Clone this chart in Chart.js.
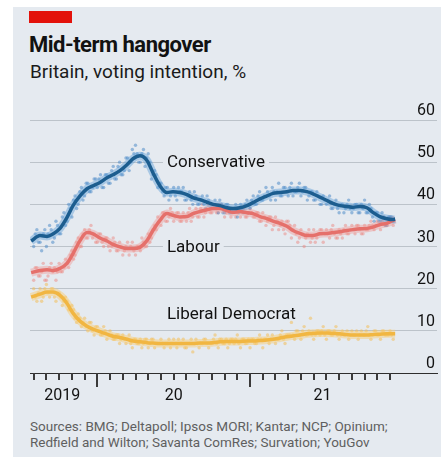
<!DOCTYPE html>
<html>
<head>
<meta charset="utf-8">
<script src="https://cdn.jsdelivr.net/npm/chart.js@4.4.1/dist/chart.umd.min.js"></script>
<style>
  body { margin: 0; width: 441px; height: 457px; overflow: hidden; position: relative; background: #fff; font-family: Roboto, sans-serif; }
  #panel { position: absolute; left: 13px; top: 7px; width: 428px; height: 450px; background: #e5eaf0; }
  #tag { position: absolute; left: 29px; top: 11px; width: 43px; height: 12px; background: #e3120b; }
  #title { position: absolute; left: 29px; top: 34px; font: bold 22px/22px Roboto, sans-serif; letter-spacing: -0.5px; color: #121212; white-space: nowrap; }
  #subtitle { position: absolute; left: 30px; top: 62px; font: 19px/19px Roboto, sans-serif; color: #1a1a1a; white-space: nowrap; }
  #chartBox { position: absolute; left: 13px; top: 95px; width: 428px; height: 312px; }
  #source { position: absolute; left: 30px; top: 418px; font: 13.5px/16px Roboto, sans-serif; color: #5f5f5f; white-space: nowrap; }
</style>
</head>
<body>
<div id="panel"></div>
<div id="tag"></div>
<div id="title">Mid-term hangover</div>
<div id="subtitle">Britain, voting intention, %</div>
<div id="chartBox"><canvas id="chart" width="428" height="312"></canvas></div>
<div id="source">Sources: BMG; Deltapoll; Ipsos MORI; Kantar; NCP; Opinium;<br>Redfield and Wilton; Savanta ComRes; Survation; YouGov</div>
<script>
// x values are months counted from January 2019 (12 = Jan 2020, 24 = Jan 2021)
const trendMonths = [6.8, 7.5, 8.05, 8.52, 9.07, 9.62, 10.09, 10.64, 11.19, 11.66, 12.21, 12.76, 13.23, 13.78,
  14.33, 14.8, 15.35, 15.9, 16.37, 16.92, 17.47, 17.94, 18.49, 19.04, 19.51, 20.06, 20.61, 21.09, 21.64, 22.19,
  22.66, 23.21, 23.76, 24.23, 24.78, 25.33, 25.8, 26.35, 26.9, 27.37, 27.92, 28.47, 28.94, 29.49, 30.04, 30.51,
  31.06, 31.61, 32.08, 32.63, 33.18, 33.65, 34.2, 34.75, 35.22, 35.4];
const conservativeTrend = [31.3, 32.6, 32.4, 33.0, 34.3, 36.9, 39.7, 42.0, 43.7, 44.4, 45.2, 46.3, 47.0, 48.0,
  49.4, 50.8, 51.5, 50.4, 47.5, 44.4, 42.8, 43.0, 42.8, 42.3, 41.6, 41.1, 40.5, 40.0, 39.7, 39.2, 39.0, 39.2,
  39.7, 40.4, 41.3, 42.0, 42.6, 42.8, 43.0, 43.3, 43.3, 43.0, 42.5, 41.7, 40.9, 40.2, 39.7, 39.5, 39.3, 39.5,
  39.2, 38.1, 37.1, 36.6, 36.4, 36.5];
const labourTrend = [23.8, 24.3, 24.5, 24.3, 24.8, 26.0, 28.3, 31.4, 33.3, 33.0, 32.0, 31.3, 30.5, 29.9,
  29.5, 29.5, 29.8, 31.4, 33.8, 36.2, 37.8, 37.4, 37.0, 37.1, 37.8, 38.3, 38.7, 39.0, 39.0, 38.5, 38.1, 38.3,
  38.0, 37.8, 37.1, 36.6, 36.0, 35.5, 34.8, 33.8, 33.1, 32.6, 32.6, 33.0, 33.1, 33.3, 33.5, 33.8, 34.0, 34.2,
  34.3, 34.6, 35.2, 35.5, 36.2, 36.4];
const libDemTrend = [18.0, 18.7, 19.2, 19.2, 18.4, 16.5, 14.2, 12.3, 11.1, 10.4, 9.8, 9.2, 8.7, 8.4,
  8.0, 7.6, 7.4, 7.2, 7.1, 7.0, 7.0, 7.0, 7.0, 7.0, 7.0, 7.1, 7.1, 7.2, 7.4, 7.5, 7.5, 7.5,
  7.6, 7.6, 7.7, 7.8, 8.0, 8.3, 8.6, 8.8, 9.0, 9.3, 9.4, 9.5, 9.5, 9.4, 9.3, 9.1, 9.0, 9.0,
  9.0, 9.1, 9.2, 9.3, 9.3, 9.3];

// individual polls, first batch (on the quarter months)
const pollMonths = [
  7, 7.25, 7.5, 7.75, 8, 8.25, 8.5, 8.75, 9, 9.25, 9.5, 9.75, 10, 10.25, 10.5, 10.75,
  11, 11.25, 11.5, 11.75, 12, 12.25, 12.5, 12.75, 13, 13.25, 13.5, 13.75, 14, 14.25, 14.5, 14.75,
  15, 15.25, 15.5, 15.75, 16, 16.25, 16.5, 16.75, 17, 17.25, 17.5, 17.75, 18, 18.25, 18.5, 18.75,
  19, 19.25, 19.5, 19.75, 20, 20.25, 20.5, 20.75, 21, 21.25, 21.5, 21.75, 22, 22.25, 22.5, 22.75,
  23, 23.25, 23.5, 23.75, 24, 24.25, 24.5, 24.75, 25, 25.25, 25.5, 25.75, 26, 26.25, 26.5, 26.75,
  27, 27.25, 27.5, 27.75, 28, 28.25, 28.5, 28.75, 29, 29.25, 29.5, 29.75, 30, 30.25, 30.5, 30.75,
  31, 31.25, 31.5, 31.75, 32, 32.25, 32.5, 32.75, 33, 33.25, 33.5, 33.75, 34, 34.25, 34.5, 34.75,
  35, 35.25];
const conservativePolls = [
  30, 34, 31, 33, 30, 35, 31, 36, 33, 37, 35, 40, 37, 42, 40, 44,
  42, 45, 43, 46, 44, 47, 44, 47, 45, 49, 46, 50, 47, 51, 48, 53,
  54, 50, 52, 49, 52, 46, 48, 44, 45, 42, 44, 42, 44, 41, 43, 44,
  41, 43, 40, 42, 40, 42, 39, 41, 39, 41, 38, 40, 38, 40, 38, 39,
  37, 40, 38, 41, 39, 42, 40, 43, 41, 44, 42, 44, 41, 45, 42, 44,
  42, 45, 43, 44, 42, 44, 41, 43, 41, 43, 40, 42, 40, 42, 39, 41,
  38, 40, 39, 41, 38, 40, 38, 40, 41, 38, 39, 36, 38, 36, 37, 35,
  37, 36];
const labourPolls = [
  22, 25, 23, 26, 22, 25, 24, 22, 26, 24, 27, 25, 29, 28, 32, 30,
  34, 32, 35, 33, 31, 33, 30, 32, 29, 32, 29, 31, 28, 30, 28, 31,
  28, 30, 32, 30, 33, 32, 35, 37, 35, 38, 36, 39, 36, 38, 36, 38,
  36, 39, 37, 39, 37, 40, 38, 40, 38, 40, 38, 40, 37, 39, 37, 39,
  38, 37, 39, 37, 39, 37, 38, 36, 38, 35, 37, 34, 37, 34, 36, 33,
  36, 32, 35, 31, 34, 30, 33, 31, 34, 32, 34, 31, 34, 32, 35, 32,
  34, 32, 35, 33, 35, 33, 35, 33, 35, 34, 36, 34, 36, 34, 37, 35,
  37, 35];
const libDemPolls = [
  20, 17, 20, 18, 21, 18, 20, 17, 19, 16, 18, 15, 16, 13, 14, 11,
  13, 10, 12, 9, 11, 9, 11, 8, 10, 8, 9, 7, 9, 7, 9, 6,
  8, 7, 6, 8, 6, 8, 6, 7, 8, 6, 7, 6, 8, 6, 7, 8,
  6, 7, 5, 8, 6, 7, 8, 6, 7, 9, 6, 8, 7, 6, 8, 7,
  9, 6, 8, 7, 6, 8, 7, 9, 6, 8, 7, 9, 7, 8, 10, 7,
  9, 12, 8, 10, 8, 11, 9, 13, 8, 10, 9, 11, 8, 10, 9, 11,
  8, 10, 9, 8, 10, 9, 8, 10, 9, 11, 8, 10, 9, 8, 10, 9,
  10, 8];

// second batch of polls, between the first ones
const pollMonthsB = [
  7.125, 7.375, 7.625, 7.875, 8.125, 8.375, 8.625, 8.875, 9.125, 9.375, 9.625, 9.875,
  10.125, 10.375, 10.625, 10.875, 11.125, 11.375, 11.625, 11.875, 12.125, 12.375, 12.625, 12.875,
  13.125, 13.375, 13.625, 13.875, 14.125, 14.375, 14.625, 14.875, 15.125, 15.375, 15.625, 15.875,
  16.125, 16.375, 16.625, 16.875, 17.125, 17.375, 17.625, 17.875, 18.125, 18.375, 18.625, 18.875,
  19.125, 19.375, 19.625, 19.875, 20.125, 20.375, 20.625, 20.875, 21.125, 21.375, 21.625, 21.875,
  22.125, 22.375, 22.625, 22.875, 23.125, 23.375, 23.625, 23.875, 24.125, 24.375, 24.625, 24.875,
  25.125, 25.375, 25.625, 25.875, 26.125, 26.375, 26.625, 26.875, 27.125, 27.375, 27.625, 27.875,
  28.125, 28.375, 28.625, 28.875, 29.125, 29.375, 29.625, 29.875, 30.125, 30.375, 30.625, 30.875,
  31.125, 31.375, 31.625, 31.875, 32.125, 32.375, 32.625, 32.875, 33.125, 33.375, 33.625, 33.875,
  34.125, 34.375, 34.625, 34.875, 35.125];
const conservativePollsB = [
  33, 31, 29, 34, 33, 34, 32, 35, 33, 38, 36, 39, 41, 39, 43, 41,
  45, 43, 44, 46, 46, 44, 47, 45, 48, 46, 49, 47, 48, 51, 50, 52,
  52, 50, 53, 51, 50, 47, 47, 45, 43, 44, 41, 43, 42, 44, 43, 41,
  42, 41, 43, 40, 41, 40, 42, 39, 40, 39, 41, 38, 40, 38, 39, 40,
  38, 39, 40, 38, 41, 40, 42, 41, 42, 43, 41, 43, 43, 42, 44, 43,
  44, 42, 43, 45, 43, 44, 42, 43, 41, 42, 40, 41, 41, 39, 40, 39,
  40, 38, 40, 39, 39, 40, 38, 39, 38, 40, 37, 38, 36, 38, 35, 37,
  37];
const labourPollsB = [
  25, 23, 24, 22, 23, 26, 25, 24, 24, 25, 26, 28, 27, 31, 30, 33,
  32, 34, 32, 31, 33, 31, 32, 30, 30, 31, 29, 30, 29, 31, 30, 29,
  30, 29, 31, 30, 31, 34, 34, 36, 38, 36, 37, 38, 37, 38, 36, 37,
  38, 36, 38, 37, 39, 37, 39, 38, 39, 38, 40, 39, 38, 39, 38, 37,
  39, 38, 37, 38, 38, 37, 38, 36, 37, 36, 37, 35, 36, 35, 34, 36,
  35, 34, 33, 32, 33, 32, 34, 32, 31, 33, 34, 33, 33, 34, 33, 32,
  33, 34, 33, 34, 34, 35, 34, 33, 34, 35, 35, 35, 35, 36, 35, 36,
  36];
const libDemPollsB = [
  18, 19, 17, 20, 19, 20, 18, 19, 18, 17, 17, 15, 15, 12, 13, 12,
  11, 12, 10, 11, 10, 9, 10, 9, 9, 8, 9, 8, 8, 8, 7, 8,
  7, 8, 7, 8, 7, 8, 7, 7, 7, 7, 8, 7, 7, 8, 7, 6,
  7, 8, 7, 7, 7, 8, 7, 7, 8, 7, 8, 7, 8, 7, 8, 8,
  7, 8, 7, 8, 8, 7, 8, 8, 8, 9, 8, 8, 8, 9, 8, 9,
  9, 9, 10, 9, 10, 9, 10, 9, 9, 10, 10, 9, 10, 9, 10, 9,
  9, 9, 10, 9, 9, 10, 9, 9, 10, 9, 9, 10, 9, 10, 9, 9,
  9];

const monthTicks = [7, 8, 9, 10, 11, 12, 13, 14, 15, 16, 17, 18, 19, 20, 21, 22, 23, 24, 25, 26, 27, 28, 29, 30, 31, 32, 33, 34, 35];
const yearTicks = [12, 24];
const yearLabels = ['2019', '20', '21'];
const yearLabelMonths = [9.25, 18.01, 29.7];
const seriesNames = ['Conservative', 'Labour', 'Liberal Democrat'];
const nameAnchors = [[17.47, 50], [17.47, 30], [17.47, 14]];

const panelColour = '#e5eaf0';
const inkColour = '#121212';
const axisColour = '#2e2e2e';

function toPoints(xs, ys) {
  return xs.map((x, i) => ({ x: x, y: ys[i] }));
}

// trend line with a pale halo and the raw polls underneath
function partyDatasets(trend, polls, pollsB, line, halo, dots, order) {
  const pollPoints = toPoints(pollMonths, polls).concat(toPoints(pollMonthsB, pollsB));
  return [
    { data: toPoints(trendMonths, trend), borderColor: line, borderWidth: 3.5, pointRadius: 0,
      cubicInterpolationMode: 'monotone', order: order },
    { data: toPoints(trendMonths, trend), borderColor: halo, borderWidth: 8, pointRadius: 0,
      cubicInterpolationMode: 'monotone', order: order + 10 },
    { data: pollPoints, showLine: false, pointRadius: 1.7, pointBorderWidth: 0,
      pointBackgroundColor: dots, order: order + 20 }
  ];
}

// month ticks under the axis, longer ones at the start of each year
const axisTickPlugin = {
  id: 'axisTicks',
  afterDraw(chart) {
    const { ctx, chartArea, scales: { x } } = chart;
    ctx.save();
    ctx.fillStyle = '#3a3a3a';
    monthTicks.forEach(m => {
      const px = Math.round(x.getPixelForValue(m));
      const len = yearTicks.includes(m) ? 14 : 7;
      ctx.fillRect(px - 1, chartArea.bottom, 2, len);
    });
    ctx.restore();
  }
};

// party names written on the chart, knocking out the gridline behind them
const nameLabelPlugin = {
  id: 'nameLabels',
  beforeDatasetsDraw(chart) {
    const { ctx, scales: { x, y } } = chart;
    ctx.save();
    ctx.font = '17px Roboto';
    ctx.textBaseline = 'middle';
    seriesNames.forEach((name, i) => {
      const px = x.getPixelForValue(nameAnchors[i][0]);
      const py = y.getPixelForValue(nameAnchors[i][1]);
      const w = ctx.measureText(name).width;
      ctx.fillStyle = panelColour;
      ctx.fillRect(px - 4, py - 9, w + 8, 18);
      ctx.fillStyle = inkColour;
      ctx.fillText(name, px, py + 1);
    });
    ctx.restore();
  }
};

function drawChart() {
  Chart.defaults.font.family = 'Roboto';
  const datasets = []
    .concat(partyDatasets(conservativeTrend, conservativePolls, conservativePollsB, '#1c5d8f', 'rgba(95,160,215,0.45)', 'rgba(80,140,200,0.55)', 1))
    .concat(partyDatasets(labourTrend, labourPolls, labourPollsB, '#e5706b', 'rgba(240,155,150,0.45)', 'rgba(235,135,130,0.5)', 2))
    .concat(partyDatasets(libDemTrend, libDemPolls, libDemPollsB, '#f1b642', 'rgba(247,205,120,0.5)', 'rgba(242,190,90,0.55)', 3));

  new Chart(document.getElementById('chart'), {
    type: 'line',
    data: { datasets: datasets },
    options: {
      responsive: false,
      animation: false,
      devicePixelRatio: 1,
      layout: { padding: { left: 17, right: 4, top: 25, bottom: 0 } },
      plugins: { legend: { display: false }, tooltip: { enabled: false } },
      scales: {
        x: {
          type: 'linear',
          min: 6.71,
          max: 38.69,
          afterBuildTicks: axis => {
            axis.ticks = yearLabelMonths.map(v => ({ value: v }));
          },
          afterFit: axis => { axis.height = 34; },
          ticks: {
            autoSkip: false,
            maxRotation: 0,
            padding: 6,
            color: inkColour,
            font: { size: 16 },
            callback: value => {
              const i = yearLabelMonths.indexOf(value);
              return i >= 0 ? yearLabels[i] : '';
            }
          },
          grid: {
            drawOnChartArea: false,
            drawTicks: true,
            tickLength: 7,
            tickColor: 'rgba(0,0,0,0)'
          },
          border: { display: true, color: axisColour, width: 1 }
        },
        y: {
          position: 'right',
          min: 0,
          max: 60,
          afterFit: axis => { axis.width = 0; },
          ticks: {
            stepSize: 10,
            mirror: true,
            padding: -2,
            labelOffset: -9,
            color: inkColour,
            font: { size: 16 }
          },
          grid: {
            drawTicks: false,
            lineWidth: 1,
            color: ctx => ctx.tick.value === 0 ? 'rgba(0,0,0,0)' : '#bcc3ca'
          },
          border: { display: false }
        }
      }
    },
    plugins: [nameLabelPlugin, axisTickPlugin]
  });
}

Promise.all([document.fonts.load('16px Roboto'), document.fonts.load('bold 22px Roboto')])
  .then(drawChart, drawChart);
</script>
</body>
</html>
